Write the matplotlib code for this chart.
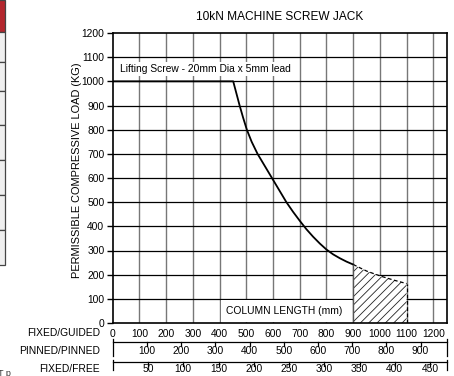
import numpy as np
import matplotlib
matplotlib.use("Agg")
import matplotlib.pyplot as plt
from matplotlib.patches import Rectangle

plt.rcParams['font.family'] = ['Liberation Sans', 'DejaVu Sans']
plt.rcParams['hatch.linewidth'] = 0.6

# curve (fixed/guided column length in mm, load in kg)
length = [0, 451, 463, 475, 488, 502, 520, 542, 569, 596, 623, 650, 675, 700, 725,
          750, 775, 800, 825, 850, 875, 900]
load = [1000, 1000, 950, 900, 850, 800, 750, 700, 650, 600, 550, 500, 460, 423, 388,
        357, 329, 304, 284, 268, 254, 242]
# hatched (not recommended) zone
hatch_len = [900, 950, 1000, 1050, 1100]
hatch_load = [242, 215, 195, 178, 163]

guided_ticks = list(range(0, 1300, 100))
pinned_ticks = [100, 200, 300, 400, 500, 600, 700, 800, 900]
free_ticks = [50, 100, 150, 200, 250, 300, 350, 400, 450]
pinned_factor = 1.28
free_factor = 2.64

fs = 7.4
W, H = 454, 376
fig = plt.figure(figsize=(W / 100, H / 100), dpi=100)
x0, x1 = 112.7, 446.7
y0, y1 = 323, 33
ax = fig.add_axes([x0 / W, 1 - y0 / H, (x1 - x0) / W, (y0 - y1) / H])

ax.set_xlim(0, 1250)
ax.set_ylim(0, 1200)
for v in range(100, 1300, 100):
    ax.axvline(v, color='#777777', lw=1.0, zorder=1)
for v in range(100, 1200, 100):
    ax.axhline(v, color='black', lw=0.9, zorder=1)

ax.plot(length, load, color='black', lw=1.3, zorder=4)
ax.fill_between(hatch_len, 0, hatch_load, facecolor='white', edgecolor='#222222',
                hatch='////', lw=0, zorder=3)
ax.plot(hatch_len, hatch_load, color='black', lw=0.9, ls=(0, (3, 2)), zorder=4)
ax.plot([1100, 1100], [0, hatch_load[-1]], color='black', lw=0.9, ls=(0, (3, 2)), zorder=4)
ax.plot([900, 900], [0, hatch_load[0]], color='#555555', lw=1.0, zorder=4)

ax.text(27, 1050, 'Lifting Screw - 20mm Dia x 5mm lead', fontsize=fs, va='center', ha='left',
        bbox=dict(facecolor='white', edgecolor='none', pad=1.5), zorder=5)
ax.add_patch(Rectangle((405, 4), 490, 92, facecolor='white', edgecolor='none', zorder=2))
ax.text(640, 50, 'COLUMN LENGTH (mm)', fontsize=fs, va='center', ha='center', zorder=5)

for s in ax.spines.values():
    s.set_linewidth(1.2)
    s.set_zorder(6)
ax.set_yticks(range(0, 1300, 100))
ax.set_xticks(guided_ticks)
ax.tick_params(axis='y', length=4, width=1, labelsize=fs, pad=2)
ax.tick_params(axis='x', length=0, labelsize=fs, pad=4)

# extra column-length scales under the chart
tr = ax.get_xaxis_transform()


def ya(ypx):
    return (y0 - ypx) / (y0 - y1)


def scale_row(top, bar_top, bar_bot, ticks, factor, label_y, name):
    ax.plot([0, 1250], [ya(top), ya(top)], color='black', lw=0.9, transform=tr, clip_on=False)
    for xe in (0, 1250):
        ax.plot([xe, xe], [ya(bar_top), ya(bar_bot)], color='black', lw=0.9,
                transform=tr, clip_on=False)
    for t in ticks:
        ax.plot([t * factor] * 2, [ya(top), ya(top + 4)], color='black', lw=0.9,
                transform=tr, clip_on=False)
        ax.text(t * factor, ya(label_y), str(t), fontsize=fs, ha='center', va='center',
                transform=tr, clip_on=False)
    fig.text(100 / W, 1 - label_y / H, name, fontsize=fs, ha='right', va='center')


fig.text(100 / W, 1 - 333 / H, 'FIXED/GUIDED', fontsize=fs, ha='right', va='center')
scale_row(341.5, 339, 356, pinned_ticks, pinned_factor, 351, 'PINNED/PINNED')
scale_row(361.5, 360, 370, free_ticks, free_factor, 369, 'FIXED/FREE')

fig.text(280 / W, 1 - 17 / H, '10kN MACHINE SCREW JACK', fontsize=8.6, ha='center', va='center')
fig.text(77 / W, 1 - 170 / H, 'PERMISSIBLE COMPRESSIVE LOAD (KG)', fontsize=7.9,
         rotation=90, ha='center', va='center')

# cropped table at the left edge
rows = [0, 31.5, 61.5, 91, 125, 160.5, 195, 229.5, 265]
for i in range(len(rows) - 1):
    fc = '#b3262d' if i == 0 else '#efefef'
    fig.add_artist(Rectangle((-0.01, 1 - rows[i + 1] / H), 4.5 / W + 0.01,
                             (rows[i + 1] - rows[i]) / H, transform=fig.transFigure,
                             facecolor=fc, edgecolor='#444444', lw=0.9))
fig.text(-2 / W, 1 - 373 / H, 'T p', fontsize=6.5, ha='left', va='center', color='#333333')

fig.savefig('out.png', dpi=100)
